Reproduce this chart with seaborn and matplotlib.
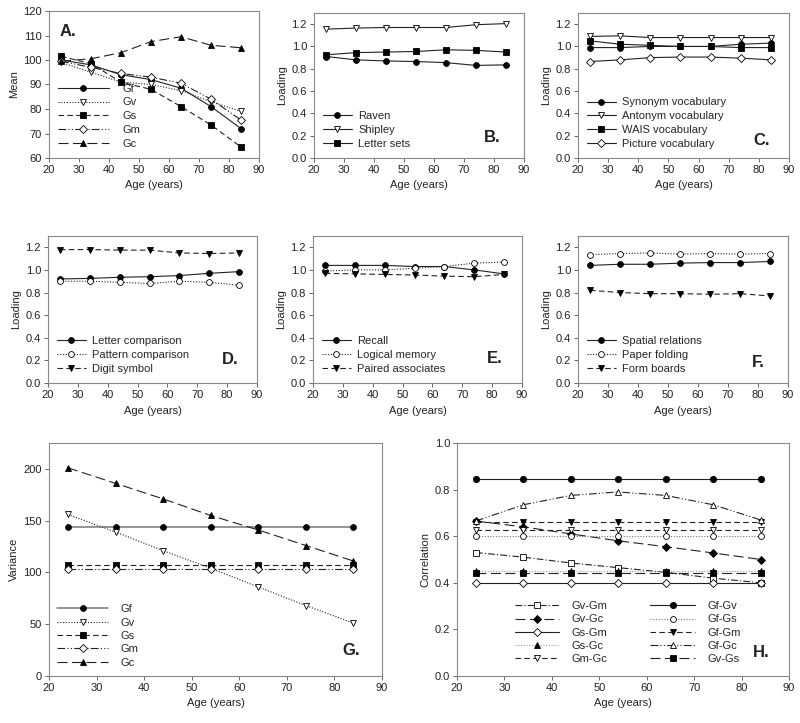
import numpy as np
import pandas as pd
import matplotlib.pyplot as plt
import seaborn as sns

sns.set_theme(style="ticks")
plt.rcParams['font.family'] = ['Liberation Sans', 'DejaVu Sans']
plt.rcParams['font.size'] = 7.5

ages = [24, 34, 44, 54, 64, 74, 84]

# panel A: means
mean_gf = [100, 98, 94, 92, 88.5, 81, 72]
mean_gv = [99, 95, 91, 90, 87.5, 83, 79]
mean_gs = [101.5, 98.5, 91, 88, 81, 73.5, 64.5]
mean_gm = [99.5, 97, 94.5, 93, 90.5, 84, 75.5]
mean_gc = [99.5, 100.5, 103, 107.5, 109.5, 106, 105]

# panel B
raven = [0.91, 0.88, 0.87, 0.865, 0.855, 0.83, 0.835]
shipley = [1.155, 1.165, 1.17, 1.17, 1.17, 1.195, 1.205]
letter_sets = [0.925, 0.945, 0.95, 0.955, 0.97, 0.965, 0.95]

# panel C
synonym = [0.99, 0.99, 1.00, 1.00, 1.00, 1.02, 1.03]
antonym = [1.09, 1.095, 1.08, 1.08, 1.08, 1.08, 1.08]
wais = [1.05, 1.02, 1.01, 1.00, 1.00, 0.99, 0.99]
picture = [0.865, 0.88, 0.90, 0.905, 0.905, 0.895, 0.88]

# panel D
letter_comp = [0.92, 0.925, 0.935, 0.94, 0.95, 0.97, 0.985]
pattern_comp = [0.90, 0.90, 0.89, 0.88, 0.90, 0.89, 0.865]
digit_symbol = [1.18, 1.18, 1.175, 1.175, 1.15, 1.145, 1.15]

# panel E
recall = [1.04, 1.04, 1.04, 1.03, 1.03, 1.00, 0.965]
logical_mem = [0.99, 1.00, 1.00, 1.015, 1.03, 1.06, 1.07]
paired = [0.97, 0.965, 0.96, 0.955, 0.945, 0.94, 0.96]

# panel F
spatial = [1.04, 1.05, 1.05, 1.06, 1.065, 1.065, 1.075]
paper_fold = [1.135, 1.145, 1.15, 1.14, 1.145, 1.14, 1.145]
form_boards = [0.82, 0.80, 0.79, 0.79, 0.785, 0.79, 0.77]

# panel G: variances
var_gf = [144, 144, 144, 144, 144, 144, 144]
var_gv = [156, 139, 121, 104, 86, 68, 51]
var_gs = [107, 107, 107, 107, 107, 107, 107]
var_gm = [103, 103, 103, 103, 103, 103, 103]
var_gc = [201, 186, 171, 155, 141, 126, 111]

# panel H: correlations
r_gv_gm = [0.53, 0.51, 0.485, 0.465, 0.445, 0.42, 0.40]
r_gv_gc = [0.665, 0.64, 0.61, 0.58, 0.555, 0.528, 0.50]
r_gs_gm = [0.40] * 7
r_gs_gc = [0.45] * 7
r_gm_gc = [0.628] * 7
r_gf_gv = [0.845] * 7
r_gf_gs = [0.60] * 7
r_gf_gm = [0.662] * 7
r_gf_gc = [0.665, 0.735, 0.775, 0.79, 0.775, 0.735, 0.67]
r_gv_gs = [0.443] * 7

LC = "#222222"
SOLID = "-"
DOT = (0, (1, 1.5))
DASH = (0, (5, 3))
DDOT = (0, (7, 2, 1, 2, 1, 2))
DDASH = (0, (6, 2, 1, 2))
LONG = (0, (9, 4))

fig = plt.figure(figsize=(8, 7.23), dpi=100)


def make_ax(x0, x1, y0, y1):
    return fig.add_axes([x0 / 800, (723 - y1) / 723, (x1 - x0) / 800, (y1 - y0) / 723])


def draw(ax, y, label, marker, filled, ls, ms=4.2, color=LC, lw=0.8):
    sns.lineplot(x=ages, y=y, ax=ax, label=label, marker=marker, linestyle=ls,
                 color=color, linewidth=lw, markersize=ms,
                 markerfacecolor="black" if filled else "white",
                 markeredgecolor="black", markeredgewidth=0.6)


def style(ax, ylim, yticks, ylabel, letter, lpos, xlabel=True):
    ax.set_xlim(20, 90)
    ax.set_xticks(range(20, 91, 10))
    ax.set_ylim(*ylim)
    ax.set_yticks(yticks)
    for s in ax.spines.values():
        s.set_visible(True)
        s.set_color("#888888")
        s.set_linewidth(0.8)
    ax.tick_params(direction="out", length=3, width=0.7, color="#666666",
                   labelsize=8, labelcolor="#222222", top=False, right=False, pad=2)
    ax.set_ylabel(ylabel, fontsize=8, color="#222222", labelpad=3)
    ax.set_xlabel("Age (years)" if xlabel else "", fontsize=8, color="#222222", labelpad=4)
    ax.text(lpos[0], lpos[1], letter, transform=ax.transAxes, fontsize=12,
            fontweight="bold", ha="left", va="center", color="#222222")


def small_legend(ax):
    ax.legend(loc="lower left", frameon=False, fontsize=8, handlelength=2.6,
              handletextpad=0.6, labelspacing=0.35, borderpad=0.3)


# ---- A ----
ax = make_ax(49, 259, 11, 158)
draw(ax, mean_gf, "Gf", "o", True, SOLID)
draw(ax, mean_gv, "Gv", "v", False, DOT, ms=4.5)
draw(ax, mean_gs, "Gs", "s", True, DASH)
draw(ax, mean_gm, "Gm", "D", False, DDOT, ms=4)
draw(ax, mean_gc, "Gc", "^", True, LONG, ms=4.5)
style(ax, (60, 120), range(60, 121, 10), "Mean", "A.", (0.05, 0.86))
ax.legend(loc="lower left", bbox_to_anchor=(0.0, 0.0), frameon=False, fontsize=8,
          handlelength=4.6, handletextpad=1.2, labelspacing=0.35, borderpad=0.3)

# ---- B ----
ax = make_ax(314, 524, 13, 158)
draw(ax, raven, "Raven", "o", True, SOLID)
draw(ax, shipley, "Shipley", "v", False, SOLID, ms=4.5)
draw(ax, letter_sets, "Letter sets", "s", True, SOLID)
style(ax, (0, 1.3), np.arange(0, 1.21, 0.2), "Loading", "B.", (0.81, 0.14))
ax.yaxis.set_major_formatter(plt.FormatStrFormatter("%.1f"))
small_legend(ax)

# ---- C ----
ax = make_ax(578, 789, 13, 158)
draw(ax, synonym, "Synonym vocabulary", "o", True, SOLID)
draw(ax, antonym, "Antonym vocabulary", "v", False, SOLID, ms=4.5)
draw(ax, wais, "WAIS vocabulary", "s", True, SOLID)
draw(ax, picture, "Picture vocabulary", "D", False, SOLID, ms=4)
style(ax, (0, 1.3), np.arange(0, 1.21, 0.2), "Loading", "C.", (0.83, 0.12))
ax.yaxis.set_major_formatter(plt.FormatStrFormatter("%.1f"))
small_legend(ax)

# ---- D ----
ax = make_ax(48, 257, 236, 383)
draw(ax, letter_comp, "Letter comparison", "o", True, SOLID)
draw(ax, pattern_comp, "Pattern comparison", "o", False, DOT)
draw(ax, digit_symbol, "Digit symbol", "v", True, DASH, ms=4.5)
style(ax, (0, 1.3), np.arange(0, 1.21, 0.2), "Loading", "D.", (0.83, 0.16))
ax.yaxis.set_major_formatter(plt.FormatStrFormatter("%.1f"))
small_legend(ax)

# ---- E ----
ax = make_ax(313, 522, 236, 383)
draw(ax, recall, "Recall", "o", True, SOLID)
draw(ax, logical_mem, "Logical memory", "o", False, DOT)
draw(ax, paired, "Paired associates", "v", True, DASH, ms=4.5)
style(ax, (0, 1.3), np.arange(0, 1.21, 0.2), "Loading", "E.", (0.83, 0.17))
ax.yaxis.set_major_formatter(plt.FormatStrFormatter("%.1f"))
small_legend(ax)

# ---- F ----
ax = make_ax(578, 788, 236, 383)
draw(ax, spatial, "Spatial relations", "o", True, SOLID)
draw(ax, paper_fold, "Paper folding", "o", False, DOT)
draw(ax, form_boards, "Form boards", "v", True, DASH, ms=4.5)
style(ax, (0, 1.3), np.arange(0, 1.21, 0.2), "Loading", "F.", (0.83, 0.14))
ax.yaxis.set_major_formatter(plt.FormatStrFormatter("%.1f"))
small_legend(ax)

# ---- G ----
ax = make_ax(49, 382, 443, 676)
draw(ax, var_gf, "Gf", "o", True, SOLID, color="#777777", lw=1.1)
draw(ax, var_gv, "Gv", "v", False, DOT, ms=4.5)
draw(ax, var_gs, "Gs", "s", True, DASH)
draw(ax, var_gm, "Gm", "D", False, DDOT, ms=4)
draw(ax, var_gc, "Gc", "^", True, LONG, ms=4.5)
style(ax, (0, 225), range(0, 201, 50), "Variance", "G.", (0.88, 0.11))
ax.legend(loc="lower left", frameon=False, fontsize=8, handlelength=4.6,
          handletextpad=1.1, labelspacing=0.3, borderpad=0.25)

# ---- H ----
ax = make_ax(457, 789, 443, 676)
draw(ax, r_gv_gm, "Gv-Gm", "s", False, DDASH, ms=3.8)
draw(ax, r_gv_gc, "Gv-Gc", "D", True, LONG, ms=3.8)
draw(ax, r_gs_gm, "Gs-Gm", "D", False, SOLID, ms=3.8)
draw(ax, r_gs_gc, "Gs-Gc", "^", True, DOT, ms=3.8, color="#999999")
draw(ax, r_gm_gc, "Gm-Gc", "v", False, DASH, ms=3.8)
draw(ax, r_gf_gv, "Gf-Gv", "o", True, SOLID, ms=4.5)
draw(ax, r_gf_gs, "Gf-Gs", "o", False, DOT, ms=4.2, color="#777777")
draw(ax, r_gf_gm, "Gf-Gm", "v", True, DASH, ms=3.8)
draw(ax, r_gf_gc, "Gf-Gc", "^", False, DDOT, ms=3.8)
draw(ax, r_gv_gs, "Gv-Gs", "s", True, LONG, ms=3.8)
style(ax, (0, 1.0), np.arange(0, 1.01, 0.2), "Correlation", "H.", (0.89, 0.10))
ax.yaxis.set_major_formatter(plt.FormatStrFormatter("%.1f"))
ax.legend(loc="lower left", bbox_to_anchor=(0.14, 0.005), ncol=2, frameon=False,
          fontsize=8, handlelength=4, handletextpad=1.1, labelspacing=0.28,
          columnspacing=3.9, borderpad=0.5)

plt.savefig("out.png", dpi=100)
